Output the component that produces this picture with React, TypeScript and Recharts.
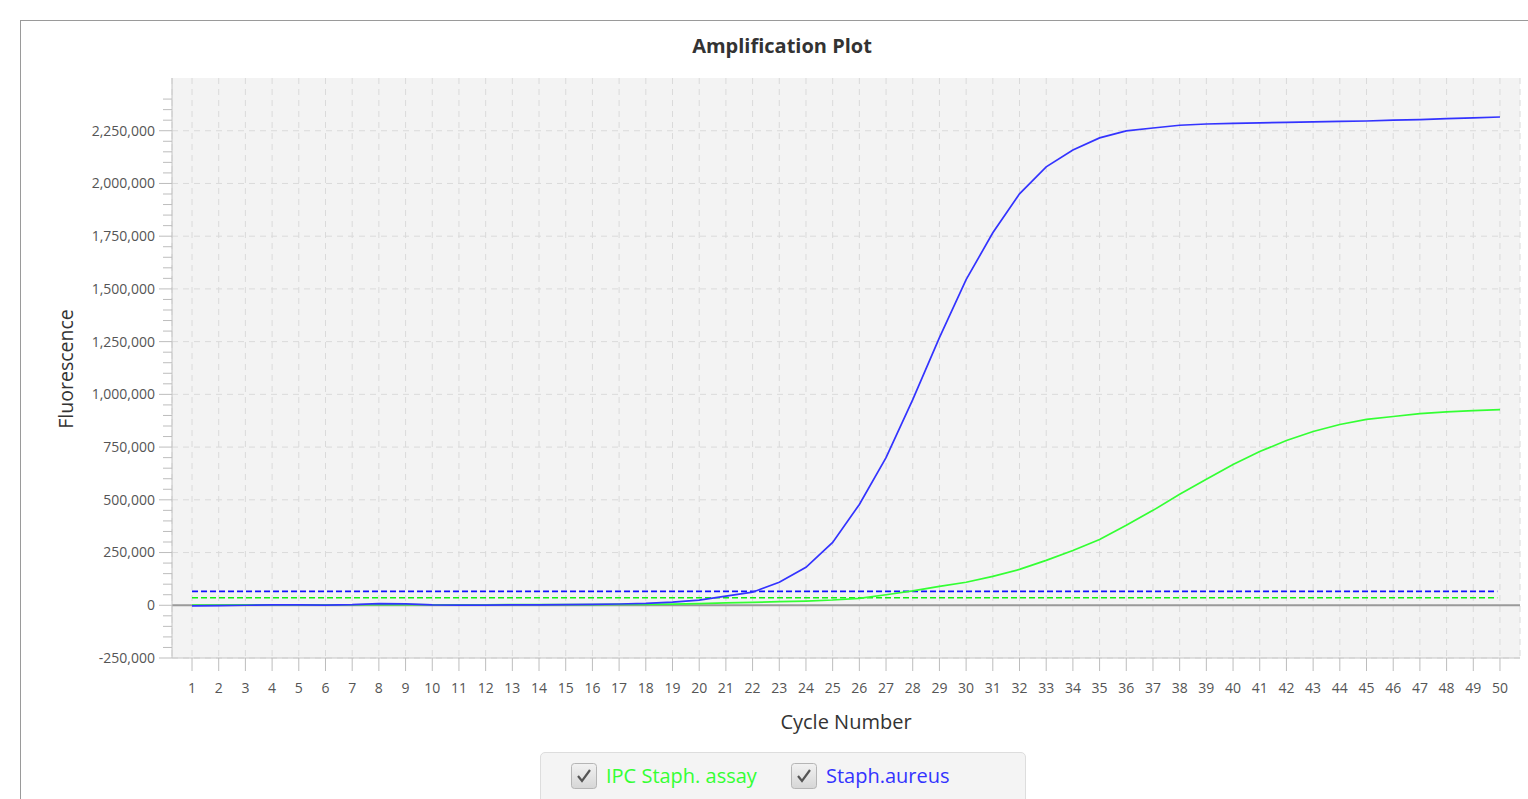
import {
  LineChart,
  Line,
  XAxis,
  YAxis,
  CartesianGrid,
  ReferenceLine,
} from "recharts";

const cycles = Array.from({ length: 50 }, (_, i) => i + 1);

// Staph.aureus (blue)
const staphValues = [
  -3000, -2000, 0, 2000, 2000, 1000, 3000, 8000, 7000, 2000,
  1000, 1000, 2000, 2000, 3000, 4000, 6000, 9000, 15000, 24000,
  43000, 62000, 109000, 180000, 298000, 478000, 700000, 975000, 1269000, 1544000,
  1766000, 1951000, 2079000, 2159000, 2216000, 2249000, 2263000, 2276000, 2282000, 2285000,
  2287000, 2290000, 2292000, 2294000, 2296000, 2300000, 2303000, 2307000, 2311000, 2315000,
];

// IPC Staph. assay (green)
const ipcValues = [
  1000, 1000, 1500, 1500, 2000, 2000, 2500, 3000, 3000, 2500,
  2500, 2500, 3000, 3000, 3500, 3500, 4000, 4500, 5500, 8000,
  11000, 14000, 17000, 20000, 25000, 33000, 50000, 68000, 90000, 109000,
  137000, 170000, 213000, 260000, 312000, 379000, 450000, 526000, 597000, 668000,
  729000, 781000, 824000, 857000, 881000, 895000, 909000, 917000, 923000, 928000,
];

const staphThreshold = 66000;
const ipcThreshold = 36000;

const majorYTicks = [-250000, 0, 250000, 500000, 750000, 1000000, 1250000, 1500000, 1750000, 2000000, 2250000];
const minorYTicks = Array.from({ length: 54 }, (_, i) => -250000 + i * 50000);

const data = cycles.map((c, i) => ({
  cycle: c,
  staph: staphValues[i],
  ipc: ipcValues[i],
}));

const FONT = "'Open Sans', 'Noto Sans', sans-serif";
const GREEN = "#33ff33";
const BLUE = "#3333ff";

const YTick = (props: any) => {
  const { x, y, payload } = props;
  const major = majorYTicks.includes(payload.value);
  return (
    <g>
      <line x1={x - (major ? 13 : 9)} x2={x} y1={y} y2={y} stroke="#bdbdbd" />
      {major && (
        <text x={x - 17} y={y} dy="0.35em" textAnchor="end" fontSize={14} fill="#555" fontFamily={FONT}>
          {payload.value.toLocaleString("en-US")}
        </text>
      )}
    </g>
  );
};

const CheckBox = ({ left }: { left: number }) => (
  <svg
    width={26}
    height={26}
    style={{ position: "absolute", left, top: 763 }}
  >
    <defs>
      <linearGradient id="cbg" x1="0" y1="0" x2="0" y2="1">
        <stop offset="0%" stopColor="#f2f2f2" />
        <stop offset="100%" stopColor="#d6d6d6" />
      </linearGradient>
    </defs>
    <rect x={0.5} y={0.5} width={25} height={25} rx={3} fill="url(#cbg)" stroke="#b5b5b5" />
    <polyline points="7,13 11,18 19,7" fill="none" stroke="#555" strokeWidth={2.2} />
  </svg>
);

export default function App() {
  return (
    <div
      style={{
        position: "absolute",
        left: 0,
        top: 0,
        width: 1528,
        height: 799,
        overflow: "hidden",
        background: "#fff",
        fontFamily: FONT,
      }}
    >
      <div
        style={{
          position: "absolute",
          left: 20,
          top: 20,
          width: 1600,
          height: 900,
          border: "1px solid #9a9a9a",
        }}
      />
      <div
        style={{
          position: "absolute",
          left: 582,
          width: 400,
          top: 32,
          textAlign: "center",
          fontSize: 20,
          lineHeight: "28px",
          fontWeight: 700,
          color: "#333",
        }}
      >
        Amplification Plot
      </div>
      <div
        style={{
          position: "absolute",
          left: 65,
          top: 369,
          transform: "translate(-50%, -50%) rotate(-90deg)",
          fontSize: 19.5,
          color: "#333",
          whiteSpace: "nowrap",
        }}
      >
        Fluorescence
      </div>
      <div
        style={{
          position: "absolute",
          left: 646,
          width: 400,
          top: 708,
          textAlign: "center",
          fontSize: 20,
          lineHeight: "28px",
          color: "#333",
        }}
      >
        Cycle Number
      </div>

      <div style={{ position: "absolute", left: 0, top: 0 }}>
        <LineChart
          width={1528}
          height={799}
          data={data}
          margin={{ top: 78, right: 8, bottom: 111, left: 0 }}
        >
          <CartesianGrid
            fill="#f3f3f3"
            fillOpacity={1}
            stroke="#dadada"
            strokeDasharray="6 5"
            horizontalValues={majorYTicks}
          />
          <XAxis
            dataKey="cycle"
            type="number"
            domain={[0.25, 50.75]}
            ticks={cycles}
            interval={0}
            allowDataOverflow
            tickSize={13}
            tickMargin={12}
            tick={{ fontSize: 14, fill: "#555", fontFamily: FONT }}
            stroke="#bdbdbd"
            tickLine={{ stroke: "#bdbdbd" }}
            axisLine={{ stroke: "#c4c4c4" }}
          />
          <YAxis
            type="number"
            width={172}
            domain={[-250000, 2500000]}
            ticks={minorYTicks}
            interval={0}
            allowDataOverflow
            tickSize={0}
            tickMargin={0}
            tickLine={false}
            tick={<YTick />}
            axisLine={{ stroke: "#c4c4c4" }}
          />
          <ReferenceLine y={0} stroke="#9a9a9a" strokeWidth={2} />
          <ReferenceLine
            segment={[
              { x: 1, y: staphThreshold },
              { x: 49.9, y: staphThreshold },
            ]}
            stroke="#1010ff"
            strokeWidth={1.6}
            strokeDasharray="6 3"
          />
          <ReferenceLine
            segment={[
              { x: 1, y: ipcThreshold },
              { x: 49.9, y: ipcThreshold },
            ]}
            stroke="#10f010"
            strokeWidth={1.6}
            strokeDasharray="6 3"
          />
          <Line
            type="linear"
            dataKey="ipc"
            stroke={GREEN}
            strokeWidth={1.7}
            dot={false}
            isAnimationActive={false}
          />
          <Line
            type="linear"
            dataKey="staph"
            stroke={BLUE}
            strokeWidth={1.7}
            dot={false}
            isAnimationActive={false}
          />
        </LineChart>
      </div>

      <div
        style={{
          position: "absolute",
          left: 540,
          top: 752,
          width: 484,
          height: 80,
          background: "#f4f4f4",
          border: "1px solid #dddddd",
          borderRadius: 5,
        }}
      />
      <CheckBox left={571} />
      <div style={{ position: "absolute", left: 606, top: 763, fontSize: 20, color: GREEN, lineHeight: "26px" }}>
        IPC Staph. assay
      </div>
      <CheckBox left={791} />
      <div style={{ position: "absolute", left: 826, top: 763, fontSize: 20, color: BLUE, lineHeight: "26px" }}>
        Staph.aureus
      </div>
    </div>
  );
}
